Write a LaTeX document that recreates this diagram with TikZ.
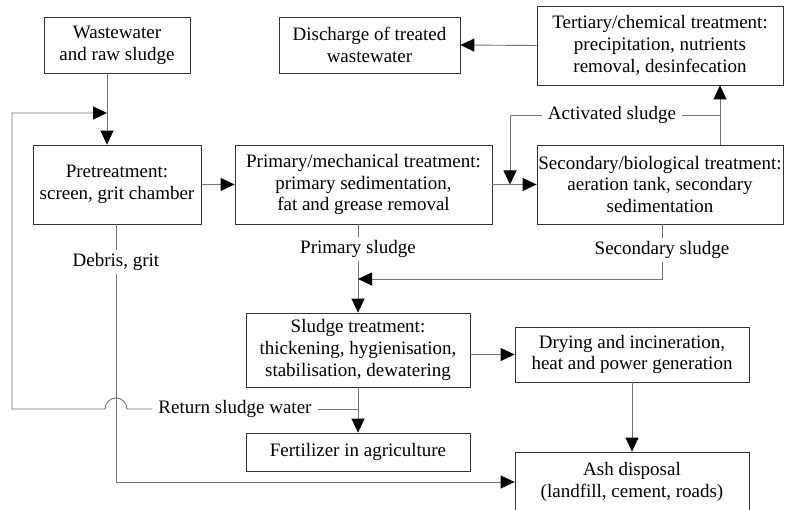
\documentclass[tikz,border=0pt]{standalone}
\usepackage{fontspec}
\setmainfont{Liberation Serif}
\usetikzlibrary{arrows.meta,calc}
\tikzset{
  box/.style={draw=black!80, line width=0.8pt, align=center, inner sep=0pt},
  lbl/.style={inner xsep=6pt, inner ysep=3pt},
  conn/.style={draw=black!55, line width=0.9pt},
  arr/.style={conn, -{Triangle[length=14pt,width=13pt,black]}},
}

\begin{document}
\begin{tikzpicture}[x=1pt,y=-1pt,font=\fontsize{19}{21.7}\selectfont]
  \useasboundingbox (0,0) rectangle (785,510);

  % Draw the treatment boxes
  \node[box, minimum width=146pt, minimum height=56pt] (waste) at (117,45) {Wastewater\\and raw sludge};
  \node[box, minimum width=181pt, minimum height=56pt] (discharge) at (369.5,45) {Discharge of treated\\wastewater};
  \node[box, minimum width=246pt, minimum height=79pt] (tertiary) at (660,45.5) {Tertiary/chemical treatment:\\precipitation, nutrients\\removal, desinfecation};

  \node[box, minimum width=168pt, minimum height=79pt] (pretreat) at (117,184.5) {Pretreatment:\\screen, grit chamber};
  \node[box, minimum width=257pt, minimum height=79pt] (primary) at (363.5,184.5) {Primary/mechanical treatment:\\primary sedimentation,\\fat and grease removal};
  \node[box, minimum width=246pt, minimum height=79pt] (secondary) at (660,184.5) {Secondary/biological treatment:\\aeration tank, secondary\\sedimentation};

  \node[box, minimum width=224pt, minimum height=74pt] (sludge) at (358,350) {Sludge treatment:\\thickening, hygienisation,\\stabilisation, dewatering};
  \node[box, minimum width=234pt, minimum height=55pt] (drying) at (632,354.5) {Drying and incineration,\\heat and power generation};
  \node[box, minimum width=224pt, minimum height=38pt] (fert) at (358,452) {Fertilizer in agriculture};
  \node[box, minimum width=234pt, minimum height=60pt] (ash) at (632,482) {Ash disposal\\(landfill, cement, roads)};

  % Labels on the lines
  \node[lbl] (debris) at (116,262) {Debris, grit};
  \node[lbl] (psl) at (358,249) {Primary sludge};
  \node[lbl] (ssl) at (662,250) {Secondary sludge};
  \node[lbl] (act) at (612,115) {Activated sludge};
  \node[lbl] (rsw) at (235,409) {Return sludge water};

  \coordinate (entry) at (107,113);
  \coordinate (loop) at (12,113);
  \coordinate (jump) at (116,409);
  \coordinate (up) at (720,115);
  \coordinate (drop) at (510,184.5);
  \coordinate (join) at (358,279);

  % Main water line
  \draw[arr] (waste.south -| entry) -- (pretreat.north -| entry);
  \draw[arr] (pretreat.east) -- (primary.west);
  \draw[arr] (primary.east) -- (secondary.west);
  \draw[arr] (secondary.north -| up) -- (tertiary.south -| up);
  \draw[arr] (tertiary.west) -- (discharge.east);

  % Activated sludge back to the inflow
  \draw[conn] (up) -- (act.east);
  \draw[arr] (act.west) -| (drop);

  % Sludge lines
  \draw[conn] (primary.south -| psl) -- (psl.north);
  \draw[arr] (psl.south) -- (sludge.north);
  \draw[conn] (secondary.south -| ssl) -- (ssl.north);
  \draw[arr] (ssl.south) |- (join);
  \draw[arr] (sludge.east |- drying.west) -- (drying.west);
  \draw[arr] (drying.south) -- (ash.north);
  \draw[arr] (sludge.south) -- (fert.north);

  % Debris and return water
  \draw[conn] (pretreat.south -| debris) -- (debris.north);
  \draw[arr] (debris.south) |- (ash.west);
  \draw[conn] (rsw.east) -- (rsw.east -| fert.north);
  \draw[arr] (rsw.west) -- ($(jump)+(11,0)$) arc[start angle=0, end angle=180, radius=11pt]
    -- (jump -| loop) -- (loop) -- (entry);
\end{tikzpicture}
\end{document}
